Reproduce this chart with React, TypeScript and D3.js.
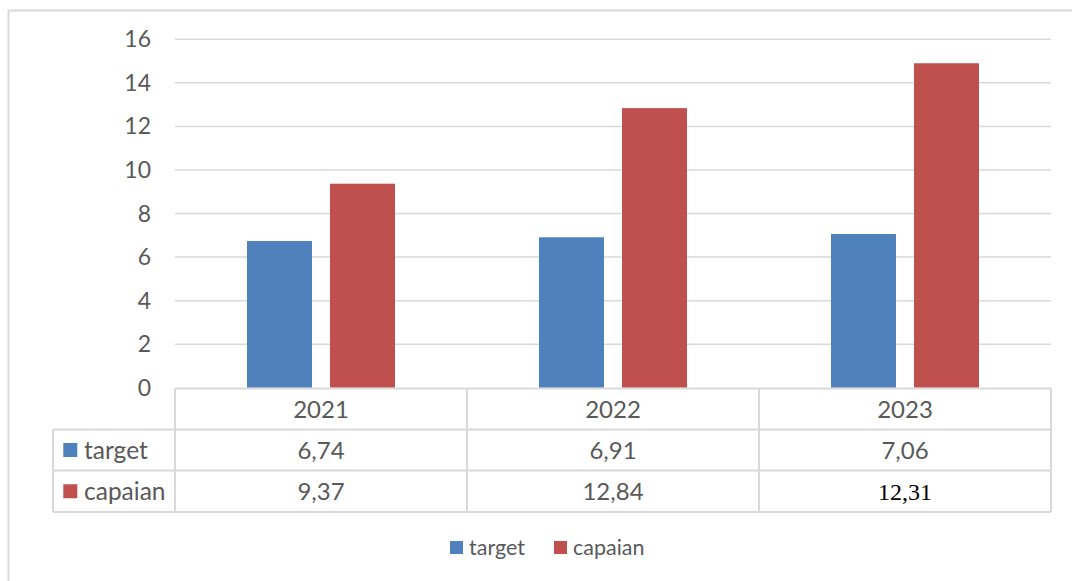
import React from "react";
import * as d3 from "d3";

const years = ["2021", "2022", "2023"];
const seriesNames = ["target", "capaian"];
const targetValues = [6.74, 6.91, 7.06];
const capaianValues = [9.37, 12.84, 14.9];
const targetLabels = ["6,74", "6,91", "7,06"];
const capaianLabels = ["9,37", "12,84", "12,31"];
const yTicks = [0, 2, 4, 6, 8, 10, 12, 14, 16];
const colors = ["#4F81BD", "#C0504D"];

const W = 1072;
const H = 581;
const plotLeft = 175;
const plotRight = 1051;
const plotTop = 39.3;
const plotBottom = 387.8;
const tableLeft = 53;
const rowYs = [388.5, 429.5, 470.5, 512];
const FONT = "Lato, 'Open Sans', sans-serif";
const TXT = "#595959";
const GRID = "#D9D9D9";

export default function App() {
  const y = d3.scaleLinear().domain([0, 16]).range([plotBottom, plotTop]);
  const x = d3.scaleBand<string>().domain(years).range([plotLeft, plotRight]).paddingInner(0).paddingOuter(0);
  const xs = d3.scaleBand<string>().domain(seriesNames).range([72, 220]).paddingInner(0.217);
  const values = [targetValues, capaianValues];
  const labels = [targetLabels, capaianLabels];

  return (
    <svg width={W} height={H} style={{ position: "absolute", left: 0, top: 0, background: "#fff" }}>
      <rect x={8.5} y={10.5} width={W + 20} height={H + 20} fill="#fff" stroke={GRID} strokeWidth={2} />
      {yTicks.map((t) => (
        <g key={t}>
          {t > 0 && (
            <line x1={plotLeft} x2={plotRight} y1={y(t)} y2={y(t)} stroke={GRID} strokeWidth={1.5} />
          )}
          <text x={151} y={y(t)} dy="0.35em" textAnchor="end" fontFamily={FONT} fontSize={23} fill={TXT}>
            {t}
          </text>
        </g>
      ))}
      {years.map((yr, i) => (
        <g key={yr}>
          {seriesNames.map((s, j) => (
            <rect
              key={s}
              x={(x(yr) as number) + (xs(s) as number)}
              y={y(values[j][i])}
              width={xs.bandwidth()}
              height={plotBottom - y(values[j][i])}
              fill={colors[j]}
            />
          ))}
        </g>
      ))}
      {/* data table */}
      <g stroke={GRID} strokeWidth={2} fill="none">
        <line x1={plotLeft} x2={plotRight} y1={rowYs[0]} y2={rowYs[0]} />
        {[1, 2, 3].map((r) => (
          <line key={r} x1={tableLeft} x2={plotRight} y1={rowYs[r]} y2={rowYs[r]} />
        ))}
        <line x1={tableLeft} x2={tableLeft} y1={rowYs[1]} y2={rowYs[3]} />
        {[plotLeft, ...years.map((yr) => (x(yr) as number) + x.bandwidth())].map((xv, k) => (
          <line key={k} x1={xv} x2={xv} y1={rowYs[0]} y2={rowYs[3]} />
        ))}
      </g>
      {years.map((yr) => (
        <text
          key={yr}
          x={(x(yr) as number) + x.bandwidth() / 2}
          y={(rowYs[0] + rowYs[1]) / 2}
          dy="0.36em"
          textAnchor="middle"
          fontFamily={FONT}
          fontSize={24}
          fill={TXT}
        >
          {yr}
        </text>
      ))}
      {seriesNames.map((s, j) => {
        const cy = (rowYs[j + 1] + rowYs[j + 2]) / 2;
        return (
          <g key={s}>
            <rect x={63.3} y={cy - 7} width={14} height={14} fill={colors[j]} />
            <text x={84} y={cy} dy="0.36em" fontFamily={FONT} fontSize={24.5} fill={TXT}>
              {s}
            </text>
            {years.map((yr, i) => {
              const serif = j === 1 && i === 2;
              return (
                <text
                  key={yr}
                  x={(x(yr) as number) + x.bandwidth() / 2}
                  y={cy}
                  dy="0.36em"
                  textAnchor="middle"
                  fontFamily={serif ? "'Liberation Serif', serif" : FONT}
                  fontSize={24}
                  fill={serif ? "#000" : TXT}
                >
                  {labels[j][i]}
                </text>
              );
            })}
          </g>
        );
      })}
      {/* legend */}
      {seriesNames.map((s, j) => {
        const lx = [450, 554][j];
        return (
          <g key={s}>
            <rect x={lx} y={541} width={13} height={13} fill={colors[j]} />
            <text x={lx + 19} y={547.5} dy="0.36em" fontFamily={FONT} fontSize={21.5} fill={TXT}>
              {s}
            </text>
          </g>
        );
      })}
    </svg>
  );
}
